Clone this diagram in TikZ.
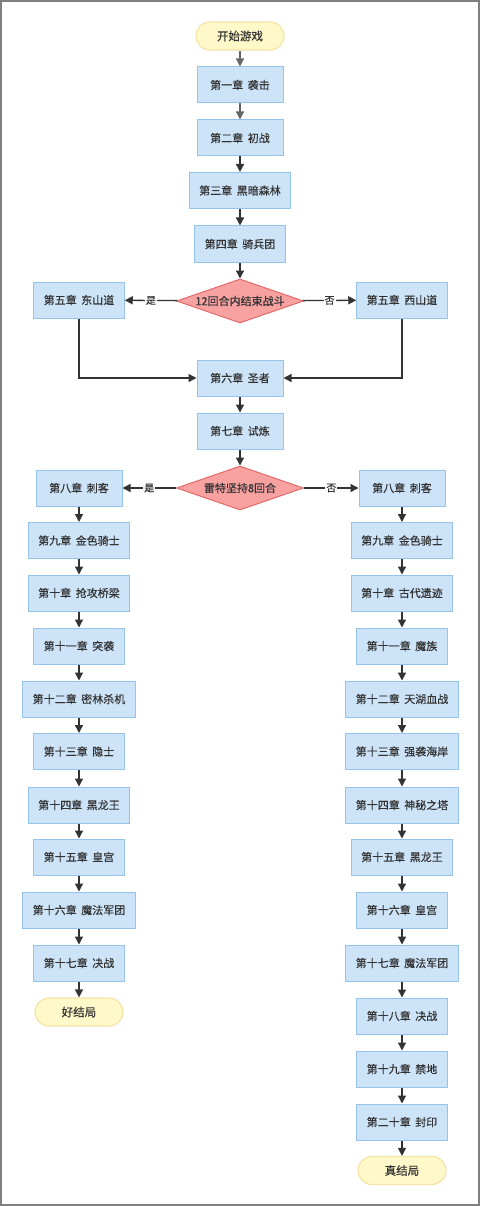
\documentclass[tikz,border=0pt]{standalone}
\usepackage{fontspec}
\newfontfamily\cjk{Noto Sans CJK SC}[FakeBold=0.4]
\usetikzlibrary{shapes.geometric,arrows.meta}
\definecolor{boxfill}{HTML}{CCE3F8}
\definecolor{boxline}{HTML}{96C3EA}
\definecolor{endfill}{HTML}{FFF8C8}
\definecolor{endline}{HTML}{F6E3A6}
\definecolor{askfill}{HTML}{F7A1A1}
\definecolor{askline}{HTML}{E26A6A}
\definecolor{ink}{HTML}{333333}

\begin{document}
\begin{tikzpicture}[x=1pt,y=-1pt,
    font={\cjk\fontsize{11}{13}\selectfont\spaceskip=4.5pt},text=ink,
    chap/.style={draw=boxline,fill=boxfill,line width=1pt,minimum width=86pt,minimum height=36pt,inner xsep=10pt},
    term/.style={draw=endline,fill=endfill,line width=1.2pt,rounded corners=14pt,minimum width=88pt,minimum height=28pt,font=\cjk\fontsize{11.5}{13}\selectfont},
    ask/.style={diamond,aspect=2.9,draw=askline,fill=askfill,line width=1pt,minimum width=127pt,minimum height=44pt,inner sep=0pt},
    flow/.style={-{Triangle[length=8pt,width=8pt]},line width=1.3pt,draw=ink},
    lab/.style={fill=white,inner sep=1pt,font=\cjk\fontsize{10}{12}\selectfont}]
          \useasboundingbox (0,0) rectangle (480,1206);
          \draw[gray,line width=2pt] (1,1) rectangle (479,1205);
          % main line
          \node[term] (start) at (240,36) {开始游戏};
          \node[chap] (c1) at (240,85) {第一章 袭击};
          \node[chap] (c2) at (240,138) {第二章 初战};
          \node[chap] (c3) at (240,190.5) {第三章 黑暗森林};
          \node[chap] (c4) at (240,244) {第四章 骑兵团};
          \node[ask] (q1) at (240,301) {12回合内结束战斗};
          \node[chap] (east) at (79,300) {第五章 东山道};
          \node[chap] (west) at (402,300) {第五章 西山道};
          \node[chap] (c6) at (240,378) {第六章 圣者};
          \node[chap] (c7) at (240,431) {第七章 试炼};
          \node[ask] (q2) at (240,488) {雷特坚持8回合};
          \node[chap] (l8) at (79,488) {第八章 刺客};
          \node[chap] (r8) at (402,488) {第八章 刺客};
          \draw[flow,draw=ink!75] (start)--(c1);
          \draw[flow,draw=ink!75] (c1)--(c2);
          \draw[flow] (c2)--(c3);
          \draw[flow] (c3)--(c4);
          \draw[flow] (c4)--(q1);
          \draw[flow] (q1)-- node[lab]{是} (east);
          \draw[flow] (q1)-- node[lab]{否} (west);
          \draw[flow] (east) |- (c6);
          \draw[flow] (west) |- (c6);
          \draw[flow] (c6)--(c7);
          \draw[flow] (c7)--(q2);
          \draw[flow] (q2)-- node[lab]{是} (l8);
          \draw[flow] (q2)-- node[lab]{否} (r8);
          % left branch
          \foreach \n/\y/\t in {9/540.5/第九章 金色骑士,10/593/第十章 抢攻桥梁,11/646/第十一章 突袭,
              12/699/第十二章 密林杀机,13/751.5/第十三章 隐士,14/805/第十四章 黑龙王,
              15/857/第十五章 皇宫,16/910/第十六章 魔法军团,17/963/第十七章 决战}
            \node[chap] (l\n) at (79,\y) {\t};
          \node[term] (good) at (79,1012) {好结局};
          \foreach \a/\b in {8/9,9/10,10/11,11/12,12/13,13/14,14/15,15/16,16/17}
            \draw[flow] (l\a)--(l\b);
          \draw[flow] (l17)--(good);
          % right branch
          \foreach \n/\y/\t in {9/540.5/第九章 金色骑士,10/593/第十章 古代遗迹,11/646/第十一章 魔族,
              12/699/第十二章 天湖血战,13/751.5/第十三章 强袭海岸,14/805/第十四章 神秘之塔,
              15/857/第十五章 黑龙王,16/910/第十六章 皇宫,17/963/第十七章 魔法军团,
              18/1016/第十八章 决战,19/1069/第十九章 禁地,20/1122/第二十章 封印}
            \node[chap] (r\n) at (402,\y) {\t};
          \node[term] (true) at (402,1170.5) {真结局};
          \foreach \a/\b in {8/9,9/10,10/11,11/12,12/13,13/14,14/15,15/16,16/17,17/18,18/19,19/20}
            \draw[flow] (r\a)--(r\b);
          \draw[flow] (r20)--(true);
        \end{tikzpicture}
\end{document}
